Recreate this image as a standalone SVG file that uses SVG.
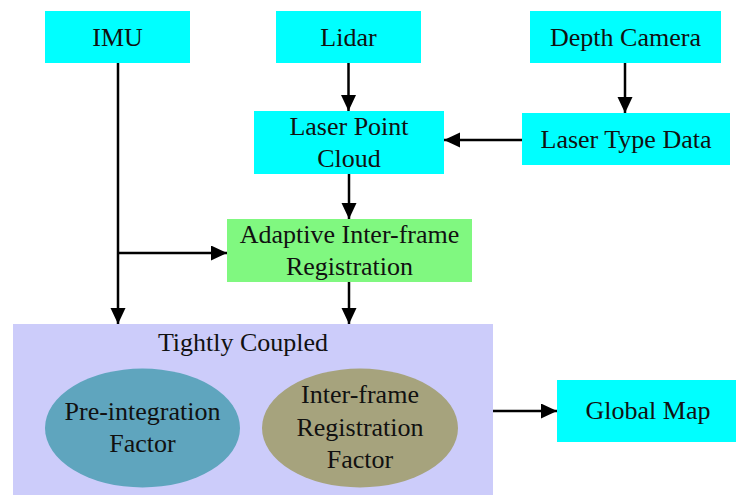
<svg xmlns="http://www.w3.org/2000/svg" width="736" height="495" viewBox="0 0 736 495">
<style>
.box{fill:#00ffff}
.t{font-family:"Liberation Serif","Times New Roman",serif;font-size:26px;fill:#111;text-anchor:middle}
.c{stroke:#000;stroke-width:2.5;fill:none}
</style>
<defs>
<marker id="ah" markerUnits="userSpaceOnUse" markerWidth="16" markerHeight="16" refX="16" refY="7.5" orient="auto">
<path d="M0,0 L16,7.5 L0,15 z" fill="#000"/>
</marker>
</defs>
<rect width="736" height="495" fill="#fff"/>
<g id="tightly-coupled">
<rect x="13" y="324" width="480" height="171" fill="#ccccfa"/>
<text class="t" x="243" y="351">Tightly Coupled</text>
</g>
<g id="pre-integration">
<ellipse cx="142.5" cy="428" rx="97.5" ry="59.5" fill="#5fa5be"/>
<text class="t" x="142.5" y="420">Pre-integration</text>
<text class="t" x="142.5" y="452">Factor</text>
</g>
<g id="inter-frame-factor">
<ellipse cx="360" cy="428" rx="98" ry="59.5" fill="#a6a37d"/>
<text class="t" x="360" y="403">Inter-frame</text>
<text class="t" x="360" y="436">Registration</text>
<text class="t" x="360" y="468">Factor</text>
</g>
<g id="imu">
<rect class="box" x="45" y="11" width="145" height="52"/>
<text class="t" x="117.5" y="46">IMU</text>
</g>
<g id="lidar">
<rect class="box" x="276" y="11" width="145" height="52"/>
<text class="t" x="348.5" y="46">Lidar</text>
</g>
<g id="depth-camera">
<rect class="box" x="530" y="11" width="191" height="52"/>
<text class="t" x="625.5" y="46">Depth Camera</text>
</g>
<g id="laser-point-cloud">
<rect class="box" x="254" y="111" width="190" height="63"/>
<text class="t" x="349" y="135">Laser Point</text>
<text class="t" x="349" y="167">Cloud</text>
</g>
<g id="laser-type-data">
<rect class="box" x="522" y="113" width="208" height="52"/>
<text class="t" x="626" y="148">Laser Type Data</text>
</g>
<g id="adaptive">
<rect x="227" y="219" width="245" height="63" fill="#80f880"/>
<text class="t" x="349.5" y="243">Adaptive Inter-frame</text>
<text class="t" x="349.5" y="275">Registration</text>
</g>
<g id="global-map">
<rect class="box" x="557" y="380" width="179" height="62"/>
<text class="t" x="648" y="419">Global Map</text>
</g>
<g id="connectors">
<line class="c" x1="348.5" y1="63" x2="348.5" y2="111" marker-end="url(#ah)"/>
<line class="c" x1="625" y1="63" x2="625" y2="113" marker-end="url(#ah)"/>
<line class="c" x1="522" y1="140" x2="444" y2="140" marker-end="url(#ah)"/>
<line class="c" x1="349" y1="174" x2="349" y2="219" marker-end="url(#ah)"/>
<line class="c" x1="118" y1="63" x2="118" y2="324" marker-end="url(#ah)"/>
<line class="c" x1="118" y1="253" x2="227" y2="253" marker-end="url(#ah)"/>
<line class="c" x1="349" y1="282" x2="349" y2="324" marker-end="url(#ah)"/>
<line class="c" x1="493" y1="411" x2="557" y2="411" marker-end="url(#ah)"/>
</g>
</svg>
